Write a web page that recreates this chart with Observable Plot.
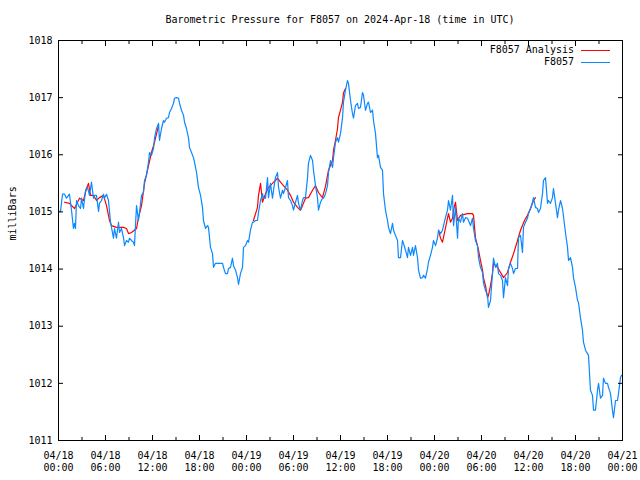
<!DOCTYPE html>
<html>
<head>
<meta charset="utf-8">
<script src="https://cdn.jsdelivr.net/npm/d3@7"></script>
<script src="https://cdn.jsdelivr.net/npm/@observablehq/plot@0.6"></script>
<style>
  body { margin: 0; background: white; }
  #wrap { position: relative; width: 640px; height: 480px; font-family: "DejaVu Sans Mono", monospace; font-size: 10px; color: black; }
  #title { position: absolute; left: 58px; width: 564px; top: 14px; line-height: 12px; text-align: center; white-space: pre; }
  .leg { position: absolute; right: 66px; line-height: 12px; white-space: pre; text-align: right; }
  .legline { position: absolute; left: 581px; width: 29px; height: 1px; }
</style>
</head>
<body>
<div id="wrap">
  <div id="chart"></div>
  <div id="title"></div>
  <div class="leg" id="leg1" style="top:44px"></div>
  <div class="legline" style="top:50px;background:#ff0000"></div>
  <div class="leg" id="leg2" style="top:56px"></div>
  <div class="legline" style="top:62px;background:#0a88ff"></div>
</div>
<script>
const titleText = "Barometric Pressure for F8057 on 2024-Apr-18 (time in UTC)";
const yLabel = "milliBars";
const seriesNames = ["F8057 Analysis", "F8057"];
const yTicks = [1011, 1012, 1013, 1014, 1015, 1016, 1017, 1018];
const majorTickHours = [0, 6, 12, 18, 24, 30, 36, 42, 48, 54, 60, 66, 72];
const minorTickHours = [3, 9, 15, 21, 27, 33, 39, 45, 51, 57, 63, 69];

// F8057 observations: hours after 2024-04-18 00:00 UTC, pressure (mb)
const obsHours = [0.00,0.26,0.51,0.77,1.02,1.40,1.66,1.91,2.04,2.17,2.30,2.55,2.81,2.94,3.19,3.45,3.70,3.96,4.21,4.47,4.60,4.85,5.11,5.23,5.49,5.74,5.87,6.13,6.38,6.64,7.02,7.15,7.40,7.66,7.79,8.04,8.30,8.43,8.68,8.94,9.06,9.32,9.57,9.70,9.96,10.21,10.34,10.60,10.85,10.98,11.23,11.49,11.62,11.87,12.13,12.26,12.51,12.77,12.89,13.15,13.40,13.53,13.79,14.04,14.17,14.43,14.68,14.81,15.06,15.32,15.45,15.70,15.96,16.09,16.34,16.60,16.72,16.98,17.23,17.36,17.62,17.87,18.13,18.38,18.51,18.77,19.02,19.15,19.40,19.66,19.79,20.04,20.30,20.94,21.06,21.32,21.57,21.70,21.96,22.21,22.34,22.60,22.85,22.98,23.23,23.49,23.62,23.87,24.13,24.26,24.51,24.77,24.89,25.15,25.40,25.53,25.79,26.04,26.17,26.43,26.68,26.81,27.06,27.32,27.45,27.70,27.96,28.09,28.34,28.60,28.72,28.98,29.23,29.36,29.62,29.87,30.00,30.26,30.51,30.64,30.89,31.15,31.28,31.53,31.79,31.91,32.17,32.43,32.55,32.81,33.06,33.19,33.45,33.70,33.83,34.09,34.34,34.47,34.72,34.98,35.11,35.36,35.62,35.74,36.00,36.26,36.38,36.64,36.89,37.02,37.28,37.53,37.66,37.91,38.17,38.30,38.55,38.81,38.94,39.19,39.45,39.57,39.83,40.09,40.21,40.47,40.72,40.85,41.11,41.36,41.49,41.74,42.00,42.13,42.38,42.64,42.77,43.02,43.28,43.40,43.66,43.91,44.04,44.30,44.55,44.68,44.94,45.19,45.32,45.57,45.83,45.96,46.21,46.47,46.60,46.85,47.11,47.23,47.49,47.74,47.87,48.13,48.38,48.51,48.77,49.02,49.15,49.40,49.66,49.79,50.04,50.30,50.43,50.68,50.94,51.06,51.32,51.57,51.70,51.96,52.21,52.34,52.60,52.85,52.98,53.23,53.49,53.62,53.87,54.13,54.26,54.51,54.77,54.89,55.15,55.40,55.53,55.79,56.04,56.17,56.43,56.68,56.81,57.06,57.32,57.45,57.70,57.96,58.09,58.34,58.60,58.72,58.98,59.23,59.36,59.62,59.87,60.00,60.26,60.51,60.64,60.89,61.15,61.28,61.53,61.79,61.91,62.17,62.43,62.55,62.81,63.06,63.19,63.45,63.70,63.83,64.09,64.34,64.72,64.98,65.11,65.36,65.62,65.74,66.00,66.26,66.38,66.64,66.89,67.02,67.28,67.53,67.66,67.91,68.17,68.30,68.55,68.81,68.94,69.19,69.45,69.57,69.83,70.09,70.21,70.47,70.72,70.85,71.11,71.36,71.49,71.74,71.87,72.00];
const obsValues = [1015.01,1015.01,1015.31,1015.31,1015.24,1015.31,1015.03,1014.71,1014.80,1014.71,1015.20,1015.11,1015.06,1015.24,1015.06,1015.38,1015.43,1015.29,1015.52,1015.24,1015.29,1015.29,1015.01,1015.15,1015.20,1015.31,1015.24,1015.31,1015.20,1014.82,1014.54,1014.71,1014.54,1014.82,1014.64,1014.71,1014.55,1014.41,1014.50,1014.47,1014.54,1014.50,1014.47,1014.41,1015.11,1014.85,1014.99,1015.29,1015.34,1015.55,1015.64,1015.87,1016.04,1015.99,1016.11,1016.29,1016.46,1016.55,1016.25,1016.46,1016.60,1016.57,1016.64,1016.65,1016.74,1016.81,1016.90,1016.99,1017.00,1016.99,1016.90,1016.78,1016.69,1016.57,1016.46,1016.29,1016.13,1016.04,1015.95,1015.87,1015.69,1015.43,1015.29,1015.08,1014.85,1014.71,1014.76,1014.73,1014.38,1014.27,1014.03,1014.10,1014.10,1014.10,1014.03,1013.92,1013.92,1014.01,1014.03,1014.19,1014.06,1013.98,1013.85,1013.73,1013.92,1014.03,1014.38,1014.41,1014.50,1014.47,1014.68,1014.82,1014.82,1014.85,1014.85,1014.99,1015.20,1015.32,1015.24,1015.24,1015.60,1015.25,1015.50,1015.24,1015.38,1015.60,1015.69,1015.43,1015.24,1015.38,1015.32,1015.43,1015.55,1015.25,1015.20,1015.11,1015.03,1015.17,1015.29,1015.15,1015.03,1015.20,1015.25,1015.25,1015.60,1015.85,1015.99,1015.90,1015.73,1015.46,1015.25,1015.03,1015.17,1015.24,1015.24,1015.32,1015.46,1015.69,1015.90,1015.78,1015.95,1016.22,1016.30,1016.22,1016.37,1016.65,1016.92,1017.13,1017.30,1017.25,1016.95,1016.72,1016.64,1016.86,1016.90,1016.81,1016.83,1017.09,1017.04,1016.78,1016.90,1016.92,1016.74,1016.78,1016.60,1016.37,1015.95,1015.99,1015.78,1015.73,1015.32,1015.03,1014.85,1014.73,1014.62,1014.80,1014.68,1014.59,1014.50,1014.20,1014.20,1014.50,1014.45,1014.33,1014.20,1014.38,1014.24,1014.38,1014.24,1014.41,1014.20,1013.98,1013.84,1013.85,1013.89,1013.84,1014.01,1014.12,1014.24,1014.38,1014.50,1014.41,1014.54,1014.68,1014.62,1014.68,1014.76,1014.90,1015.03,1015.20,1015.03,1015.29,1014.76,1015.08,1014.54,1014.89,1014.82,1014.97,1014.82,1014.90,1014.89,1014.85,1014.76,1014.89,1014.71,1014.50,1014.41,1014.20,1014.03,1013.94,1013.75,1013.63,1013.54,1013.33,1013.45,1013.92,1014.19,1014.03,1014.10,1013.92,1013.89,1013.80,1013.50,1013.85,1013.71,1014.01,1014.10,1014.01,1013.92,1014.01,1014.01,1014.55,1014.59,1014.29,1014.73,1014.82,1014.89,1014.97,1015.06,1015.17,1015.25,1015.08,1015.06,1014.99,1015.06,1015.32,1015.55,1015.60,1015.15,1015.20,1015.15,1015.25,1015.41,1015.15,1014.90,1015.03,1015.20,1015.06,1014.64,1014.38,1014.15,1014.20,1014.03,1013.85,1013.68,1013.45,1013.42,1013.14,1012.93,1012.72,1012.58,1012.52,1012.49,1011.88,1011.79,1011.53,1011.53,1011.88,1012.00,1011.74,1011.79,1012.09,1012.00,1012.00,1011.93,1011.82,1011.53,1011.40,1011.70,1011.70,1011.82,1012.10,1012.14,1012.14];

// F8057 Analysis: three separate runs
const analysisHours1 = [0.77,1.40,2.04,2.68,3.19,3.57,3.83,4.09,4.47,4.85,5.23,5.74,6.13,6.51,6.77,7.40,8.30,8.68,8.94,9.32,9.96,10.21,10.60,10.98,11.49,11.87,12.26,12.77];
const analysisValues1 = [1015.17,1015.15,1015.06,1015.24,1015.20,1015.41,1015.50,1015.29,1015.29,1015.20,1015.25,1015.29,1015.11,1014.85,1014.76,1014.73,1014.73,1014.71,1014.62,1014.64,1014.71,1014.90,1015.11,1015.50,1015.81,1016.04,1016.22,1016.51];
const analysisHours2 = [24.89,25.40,25.53,25.79,26.04,26.43,26.81,27.32,27.96,28.34,28.72,29.23,29.62,30.00,30.51,30.89,31.15,31.53,31.91,32.43,32.81,33.19,33.70,34.09,34.47,34.98,35.11,35.36,35.62,35.74,36.00,36.26,36.38,36.64];
const analysisValues2 = [1014.85,1015.08,1015.29,1015.50,1015.17,1015.32,1015.43,1015.50,1015.59,1015.52,1015.46,1015.38,1015.29,1015.17,1015.08,1015.03,1015.11,1015.24,1015.25,1015.38,1015.46,1015.34,1015.25,1015.45,1015.73,1015.90,1016.08,1016.25,1016.46,1016.65,1016.78,1016.92,1017.08,1017.16];
const analysisHours3 = [48.51,48.77,49.02,49.28,49.66,49.79,50.04,50.30,50.43,50.68,50.94,51.32,52.21,52.85,52.98,53.23,53.62,53.87,54.13,54.26,54.51,54.77,54.89,55.15,55.40,55.53,56.04,56.43,56.81,57.32,57.70,58.09,58.60,58.98,59.49,59.87,60.26,60.64,60.89];
const analysisValues3 = [1014.68,1014.54,1014.47,1014.64,1014.89,1014.97,1014.82,1014.89,1015.03,1015.17,1014.85,1014.94,1014.97,1014.97,1014.94,1014.55,1014.33,1014.15,1013.98,1013.84,1013.71,1013.50,1013.54,1013.71,1013.92,1014.10,1014.03,1013.94,1013.85,1013.94,1014.12,1014.27,1014.50,1014.68,1014.85,1014.94,1015.06,1015.20,1015.25];

const base = Date.UTC(2024, 3, 18, 0, 0);
const toDate = h => new Date(base + h * 3600000);

const obs = obsHours.map((h, i) => ({t: toDate(h), p: obsValues[i]}));
const analysis = [
  [analysisHours1, analysisValues1],
  [analysisHours2, analysisValues2],
  [analysisHours3, analysisValues3]
].flatMap(([hs, vs], k) => hs.map((h, i) => ({t: toDate(h), p: vs[i], seg: k})));

const majorDates = majorTickHours.map(toDate);
const minorDates = minorTickHours.map(toDate);
const fmt = d3.utcFormat("%m/%d\n%H:%M");
const blank = () => "";

const chart = Plot.plot({
  width: 640,
  height: 480,
  marginLeft: 58,
  marginRight: 18,
  marginTop: 40,
  marginBottom: 40,
  style: {fontFamily: "DejaVu Sans Mono, monospace", fontSize: "10px", background: "white", color: "black"},
  x: {type: "utc", domain: [toDate(0), toDate(72)], label: null},
  y: {domain: [1011, 1018], label: null},
  marks: [
    Plot.line(analysis, {x: "t", y: "p", z: "seg", stroke: "#ff0000", strokeWidth: 1.2}),
    Plot.line(obs, {x: "t", y: "p", stroke: "#0a88ff", strokeWidth: 1.2}),
    Plot.frame({stroke: "black", strokeWidth: 1}),
    Plot.axisY(yTicks, {anchor: "left", tickSize: 0, tickPadding: 6, tickFormat: d => String(d), label: null}),
    Plot.axisY(yTicks, {anchor: "left", tickSize: 5, dx: 5, tickFormat: blank, label: null}),
    Plot.axisY(yTicks, {anchor: "right", tickSize: 5, dx: -5, tickFormat: blank, label: null}),
    Plot.axisX(majorDates, {anchor: "bottom", tickSize: 0, tickPadding: 10, tickFormat: fmt, lineHeight: 1.2, label: null}),
    Plot.axisX(majorDates, {anchor: "bottom", tickSize: 5, dy: -5, tickFormat: blank, label: null}),
    Plot.axisX(minorDates, {anchor: "bottom", tickSize: 3, dy: -3, tickFormat: blank, label: null}),
    Plot.axisX(majorDates, {anchor: "top", tickSize: 5, dy: 5, tickFormat: blank, label: null}),
    Plot.axisX(minorDates, {anchor: "top", tickSize: 3, dy: 3, tickFormat: blank, label: null}),
    Plot.text([yLabel], {frameAnchor: "left", dx: -46, rotate: -90, fontSize: 10})
  ]
});
document.getElementById("chart").appendChild(chart);
document.getElementById("title").textContent = titleText;
document.getElementById("leg1").textContent = seriesNames[0];
document.getElementById("leg2").textContent = seriesNames[1];
</script>
</body>
</html>
